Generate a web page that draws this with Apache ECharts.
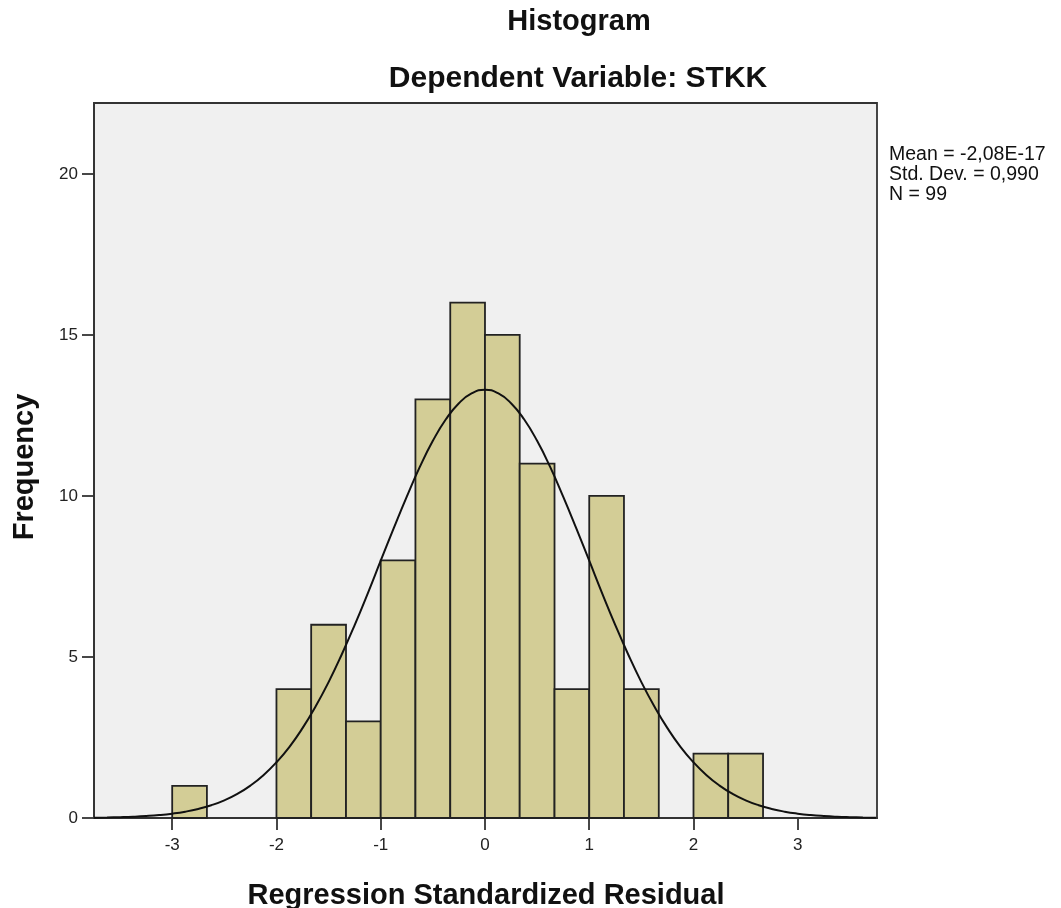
<!DOCTYPE html>
<html>
<head>
<meta charset="utf-8">
<script src="https://cdn.jsdelivr.net/npm/echarts@6/dist/echarts.min.js"></script>
<style>
html,body{margin:0;padding:0;background:#fff;}
#chart{width:1061px;height:908px;}
</style>
</head>
<body>
<div id="chart"></div>
<script>
// Histogram bins (lower / upper edges) and frequencies
var binLow  = [-3, -2, -1.667, -1.333, -1, -0.667, -0.333, 0, 0.333, 0.667, 1, 1.333, 2, 2.333];
var binHigh = [-2.667, -1.667, -1.333, -1, -0.667, -0.333, 0, 0.333, 0.667, 1, 1.333, 1.667, 2.333, 2.667];
var counts  = [1, 4, 6, 3, 8, 13, 16, 15, 11, 4, 10, 4, 2, 2];

// Normal curve
var curveX = [-3.75,-3.625,-3.5,-3.375,-3.25,-3.125,-3,-2.875,-2.75,-2.625,-2.5,-2.375,-2.25,-2.125,-2,-1.875,-1.75,-1.625,-1.5,-1.375,-1.25,-1.125,-1,-0.875,-0.75,-0.625,-0.5,-0.375,-0.25,-0.125,0,0.125,0.25,0.375,0.5,0.625,0.75,0.875,1,1.125,1.25,1.375,1.5,1.625,1.75,1.875,2,2.125,2.25,2.375,2.5,2.625,2.75,2.875,3,3.125,3.25,3.375,3.5,3.625,3.75];
var curveY = [0.010,0.016,0.026,0.040,0.061,0.091,0.135,0.196,0.281,0.396,0.548,0.748,1.005,1.329,1.73,2.21,2.79,3.46,4.22,5.07,5.99,6.97,7.99,9.00,9.98,10.90,11.71,12.38,12.88,13.19,13.30,13.19,12.88,12.38,11.71,10.90,9.98,9.00,7.99,6.97,5.99,5.07,4.22,3.46,2.79,2.21,1.73,1.329,1.005,0.748,0.548,0.396,0.281,0.196,0.135,0.091,0.061,0.040,0.026,0.016,0.010];

var xTicks = [-3, -2, -1, 0, 1, 2, 3];
var yTicks = [0, 5, 10, 15, 20];

var titleMain = 'Histogram';
var titleSub = 'Dependent Variable: STKK';
var statLines = ['Mean = -2,08E-17', 'Std. Dev. = 0,990', 'N = 99'];
var xName = 'Regression Standardized Residual';
var yName = 'Frequency';

var barData = binLow.map(function (lo, i) { return [lo, binHigh[i], counts[i]]; });
var curveData = curveX.map(function (x, i) { return [x, curveY[i]]; });

var chart = echarts.init(document.getElementById('chart'), null, {renderer: 'canvas'});
var FONT = 'Liberation Sans, Arial, sans-serif';

function label(text, x, y, size, weight, align, rot) {
  return {
    type: 'text', x: x, y: y, rotation: rot || 0,
    style: {text: text, fill: '#111', font: weight + ' ' + size + 'px ' + FONT,
            textAlign: align || 'center', textVerticalAlign: 'middle'}
  };
}

chart.setOption({
  backgroundColor: '#ffffff',
  animation: false,
  graphic: [
    label(titleMain, 579, 22, 29, 'bold'),
    label(titleSub, 578, 79, 30, 'bold'),
    label(xName, 486, 896, 29, 'bold'),
    label(yName, 25, 467, 29, 'bold', 'center', Math.PI / 2),
    label(statLines[0], 889, 155, 19.5, 'normal', 'left'),
    label(statLines[1], 889, 175, 19.5, 'normal', 'left'),
    label(statLines[2], 889, 195, 19.5, 'normal', 'left')
  ],
  grid: {
    left: 94, top: 103, right: 184, bottom: 90,
    show: true, backgroundColor: '#F0F0F0', borderColor: '#333', borderWidth: 1.8
  },
  xAxis: {
    type: 'value', min: -3.75, max: 3.76,
    axisLine: {show: true, onZero: false, lineStyle: {color: '#333', width: 1.8}},
    axisTick: {show: true, customValues: xTicks, length: 12, lineStyle: {color: '#333', width: 1.8}},
    axisLabel: {customValues: xTicks, fontFamily: FONT, fontSize: 17, color: '#222', margin: 19},
    splitLine: {show: false}
  },
  yAxis: {
    type: 'value', min: 0, max: 22.2,
    axisLine: {show: true, onZero: false, lineStyle: {color: '#333', width: 1.8}},
    axisTick: {show: true, customValues: yTicks, length: 12, lineStyle: {color: '#333', width: 1.8}},
    axisLabel: {customValues: yTicks, fontFamily: FONT, fontSize: 17, color: '#222', margin: 16,
                padding: [6, 0, 0, 0]},
    splitLine: {show: false}
  },
  series: [
    {
      type: 'custom',
      data: barData,
      encode: {x: [0, 1], y: 2},
      renderItem: function (params, api) {
        var p0 = api.coord([api.value(0), 0]);
        var p1 = api.coord([api.value(1), api.value(2)]);
        return {
          type: 'rect',
          shape: {x: p0[0], y: p1[1], width: p1[0] - p0[0], height: p0[1] - p1[1]},
          style: {fill: '#D3CD96', stroke: '#222', lineWidth: 1.8}
        };
      },
      z: 2
    },
    {
      type: 'line',
      data: curveData,
      smooth: true,
      showSymbol: false,
      symbol: 'none',
      lineStyle: {color: '#111', width: 2},
      z: 3
    }
  ]
});
</script>
</body>
</html>
